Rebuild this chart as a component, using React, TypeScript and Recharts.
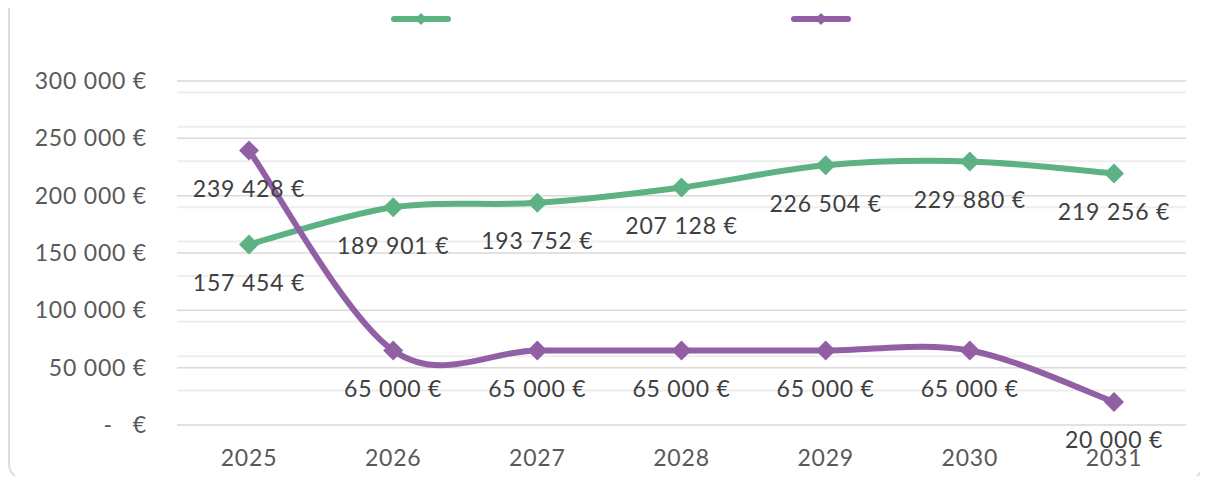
import { LineChart, Line, XAxis, YAxis, CartesianGrid, LabelList } from "recharts"

const years = ["2025", "2026", "2027", "2028", "2029", "2030", "2031"]
const greenValues = [157454, 189901, 193752, 207128, 226504, 229880, 219256]
const purpleValues = [239428, 65000, 65000, 65000, 65000, 65000, 20000]
const yTicks = [0, 50000, 100000, 150000, 200000, 250000, 300000]
const minorTicks = [
  10000, 20000, 30000, 40000, 60000, 70000, 80000, 90000, 110000, 120000, 130000, 140000,
  160000, 170000, 180000, 190000, 210000, 220000, 230000, 240000, 260000, 270000, 280000, 290000,
]

const GREEN = "#5CB282"
const PURPLE = "#9160A4"
const FONT = "Lato, 'Noto Sans', sans-serif"

const data = years.map((year, i) => ({
  year,
  green: greenValues[i],
  purple: purpleValues[i],
}))

function formatEuro(v: number): string {
  if (v === 0) return "-\u00a0\u00a0\u00a0€"
  return Math.round(v).toString().replace(/\B(?=(\d{3})+(?!\d))/g, "\u00a0") + "\u00a0€"
}

// Excel-style smoothing (Catmull-Rom turned into cubic Beziers)
function excelCurve(context: any) {
  let pts: number[][] = []
  return {
    areaStart() {},
    areaEnd() {},
    lineStart() {
      pts = []
    },
    lineEnd() {
      if (!pts.length) return
      context.moveTo(pts[0][0], pts[0][1])
      for (let i = 0; i < pts.length - 1; i++) {
        const p0 = pts[Math.max(i - 1, 0)]
        const p1 = pts[i]
        const p2 = pts[i + 1]
        const p3 = pts[Math.min(i + 2, pts.length - 1)]
        context.bezierCurveTo(
          p1[0] + (p2[0] - p0[0]) / 6,
          p1[1] + (p2[1] - p0[1]) / 6,
          p2[0] - (p3[0] - p1[0]) / 6,
          p2[1] - (p3[1] - p1[1]) / 6,
          p2[0],
          p2[1]
        )
      }
    },
    point(x: number, y: number) {
      pts.push([+x, +y])
    },
  }
}

function Diamond(props: any) {
  const { cx, cy, stroke } = props
  if (cx == null || cy == null) return null
  const r = 10
  return <path d={`M${cx},${cy - r}L${cx + r},${cy}L${cx},${cy + r}L${cx - r},${cy}Z`} fill={stroke} />
}

function LegendMark({ color }: { color: string }) {
  return (
    <svg width={60} height={16}>
      <line x1={3} y1={8} x2={57} y2={8} stroke={color} strokeWidth={6} strokeLinecap="round" />
      <path d="M30,2L36,8L30,14L24,8Z" fill={color} />
    </svg>
  )
}

export default function App() {
  return (
    <div style={{ position: "relative", width: 1208, height: 484, margin: -8, overflow: "hidden", background: "#fff" }}>
      <div
        style={{
          position: "absolute",
          left: 8,
          top: -20,
          width: 1196,
          height: 500,
          border: "2px solid #dcdcdc",
          borderRadius: 16,
          boxSizing: "border-box",
        }}
      />
      <div style={{ position: "absolute", top: 11, left: 391, display: "flex", gap: 340 }}>
        <LegendMark color={GREEN} />
        <LegendMark color={PURPLE} />
      </div>
      <LineChart
        width={1208}
        height={484}
        data={data}
        margin={{ top: 81, right: 22, bottom: 29, left: 0 }}
        style={{ position: "absolute", top: 0, left: 0, fontFamily: FONT, letterSpacing: "0.8px" }}
      >
        <CartesianGrid vertical={false} horizontalValues={minorTicks} stroke="#eeeeee" strokeWidth={2} />
        <CartesianGrid vertical={false} horizontalValues={yTicks} stroke="#d9d9d9" strokeWidth={1.5} />
        <XAxis
          dataKey="year"
          height={30}
          padding={{ left: 72, right: 72 }}
          axisLine={false}
          tickLine={false}
          tickSize={0}
          tickMargin={25}
          tick={{ fill: "#595959", fontSize: 23 }}
        />
        <YAxis
          width={177}
          domain={[0, 300000]}
          ticks={yTicks}
          axisLine={false}
          tickLine={false}
          tickSize={0}
          tickMargin={30}
          tickFormatter={formatEuro}
          tick={{ fill: "#595959", fontSize: 23 }}
        />
        <Line
          dataKey="green"
          type={excelCurve as any}
          stroke={GREEN}
          strokeWidth={6}
          dot={<Diamond />}
          activeDot={false}
          isAnimationActive={false}
        >
          <LabelList dataKey="green" position="bottom" offset={30} formatter={(v: any) => formatEuro(Number(v))} fill="#404040" fontSize={23} />
        </Line>
        <Line
          dataKey="purple"
          type={excelCurve as any}
          stroke={PURPLE}
          strokeWidth={6}
          dot={<Diamond />}
          activeDot={false}
          isAnimationActive={false}
        >
          <LabelList dataKey="purple" position="bottom" offset={30} formatter={(v: any) => formatEuro(Number(v))} fill="#404040" fontSize={23} />
        </Line>
      </LineChart>
    </div>
  )
}
